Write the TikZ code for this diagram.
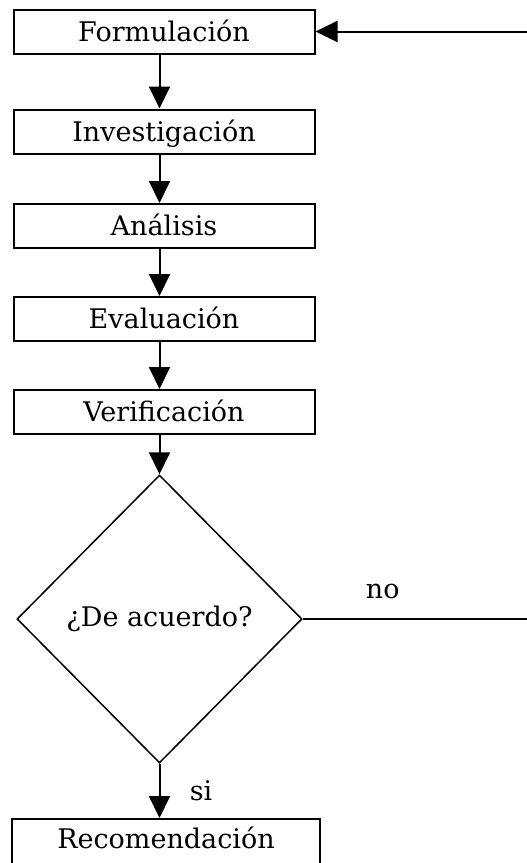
\documentclass[tikz,border=0pt]{standalone}
\usepackage{fontspec}
\setmainfont{DejaVu Serif}
\usetikzlibrary{arrows.meta,shapes.geometric,positioning}

\begin{document}
\begin{tikzpicture}[x=1pt,y=1pt,
		caja/.style={draw, line width=2pt, minimum width=301pt, minimum height=44pt,
			inner sep=0pt, text height=19.5pt, text depth=0pt, font=\fontsize{27}{32}\selectfont},
		decision/.style={draw, diamond, line width=1.5pt, minimum width=285pt,
			minimum height=288pt, inner sep=0pt, font=\fontsize{27}{32}\selectfont},
		flecha/.style={line width=2pt, -{Triangle[length=22pt,width=21pt]}},
		etiqueta/.style={font=\fontsize{27}{32}\selectfont}]

		\useasboundingbox (0,0) rectangle (527,-863);
		\clip (0,0) rectangle (527,-863);

		% pasos
		\node[caja] (form) at (164,-31.5) {Formulación};
		\node[caja] (inv) at (164,-131.5) {Investigación};
		\node[caja] (anal) at (164,-226) {Análisis};
		\node[caja] (eval) at (164,-319) {Evaluación};
		\node[caja] (verif) at (164,-412) {Verificación};
		\node[decision] (dec) at (159.5,-619) {¿De acuerdo?};
		\node[caja, minimum width=308pt, minimum height=56pt, text depth=16pt, anchor=north]
			(rec) at (166,-818) {Recomendación};

		\coordinate (vuelta) at (545,-619);

		% flechas
		\draw[flecha] (form.south -| dec.north) -- (inv.north -| dec.north);
		\draw[flecha] (inv.south -| dec.north) -- (anal.north -| dec.north);
		\draw[flecha] (anal.south -| dec.north) -- (eval.north -| dec.north);
		\draw[flecha] (eval.south -| dec.north) -- (verif.north -| dec.north);
		\draw[flecha] (verif.south -| dec.north) -- (dec.north);
		\draw[flecha] (dec.south) -- node[etiqueta, midway, right=26pt] {si} (rec.north -| dec.south);
		\draw[flecha] (dec.east) -- node[etiqueta, pos=0.33, above=16pt] {no} (vuelta) |- (form.east);

\end{tikzpicture}
\end{document}
